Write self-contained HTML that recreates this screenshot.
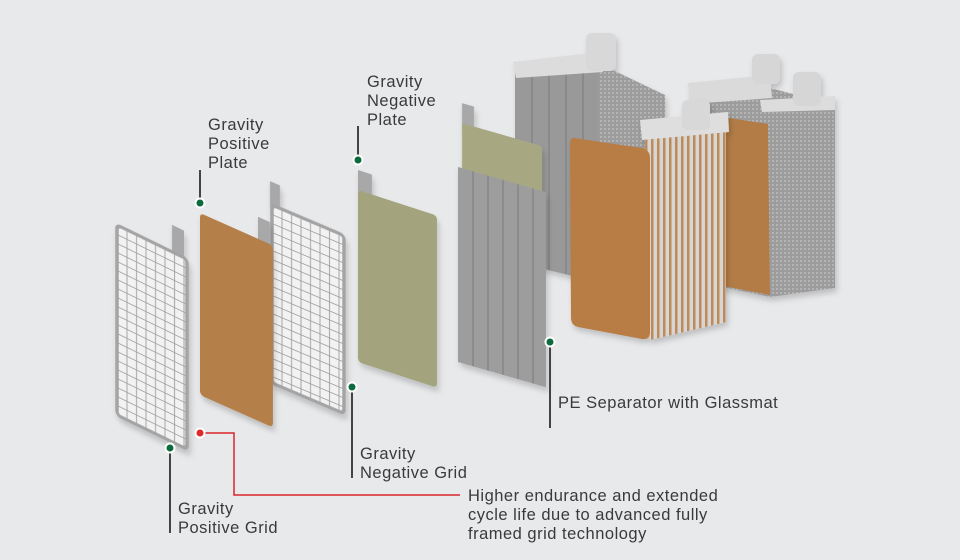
<!DOCTYPE html>
<html><head><meta charset="utf-8"><style>
html,body{margin:0;padding:0;background:#e8e9eb;}
svg{display:block}
text{font-family:"Liberation Sans",sans-serif;font-size:16.5px;fill:#3a3a3a;letter-spacing:0.5px}
</style></head><body>
<svg width="960" height="560" viewBox="0 0 960 560" xmlns="http://www.w3.org/2000/svg">
<defs>
<pattern id="grid" width="9.5" height="9" patternUnits="userSpaceOnUse">
<rect width="9.5" height="9" fill="#f2f2f2"/>
<path d="M0 0V9M0 0H9.5" stroke="#a4a4a4" stroke-width="2"/>
</pattern>
<pattern id="tex" width="4" height="4" patternUnits="userSpaceOnUse">
<rect width="4" height="4" fill="#9c9c9c"/>
<rect width="2" height="2" fill="#b4b4b4"/>
</pattern>
<pattern id="edges" width="6" height="10" patternUnits="userSpaceOnUse">
<rect width="6" height="10" fill="#d6d6d6"/>
<rect x="3" width="2.5" height="10" fill="#bf8a55"/>
</pattern>
<filter id="sh" x="-20%" y="-20%" width="140%" height="140%"><feDropShadow dx="2" dy="4" stdDeviation="3" flood-color="#000" flood-opacity="0.18"/></filter>
</defs>
<rect width="960" height="560" fill="#e8e9eb"/>

<!-- back block -->
<g filter="url(#sh)">
<polygon points="515,72 600,64 665,95 665,272 598,282 515,262" fill="url(#tex)"/>
<polygon points="515,72 598,66 598,282 515,262" fill="#999"/>
<g stroke="#808080" stroke-width="1.2"><line x1="532" y1="72" x2="532" y2="266"/><line x1="549" y1="70" x2="549" y2="270"/><line x1="566" y1="69" x2="566" y2="274"/><line x1="583" y1="67" x2="583" y2="278"/></g>
<polygon points="513,62 600,52 603,72 516,78" fill="#dcdcdc"/>
<rect x="586" y="33" width="30" height="38" rx="6" fill="#d8d8d8"/>
</g>

<!-- right block -->
<g filter="url(#sh)">
<polygon points="690,100 770,88 835,105 835,288 770,297 712,285" fill="url(#tex)"/>
<polygon points="710,115 768,124 770,295 713,284" fill="#b37c47"/>
<polygon points="688,83 770,75 772,98 690,104" fill="#dadada"/>
<rect x="752" y="54" width="28" height="30" rx="6" fill="#d6d6d6"/>
<polygon points="760,100 835,96 835,110 762,112" fill="#dcdcdc"/>
<rect x="793" y="72" width="28" height="34" rx="6" fill="#d6d6d6"/>
</g>

<!-- front orange block -->
<g filter="url(#sh)">
<polygon points="645,134 726,128 726,322 650,340" fill="url(#edges)"/>
<path d="M574,138 L642,148 Q650,150 650,158 L650,332 Q650,340 642,339 L578,327 Q571,325 571,318 L570,146 Q570,137 574,138Z" fill="#b77d45"/>
<polygon points="640,120 728,112 729,132 642,140" fill="#dedede"/>
<rect x="682" y="100" width="28" height="30" rx="6" fill="#d8d8d8"/>
</g>

<!-- separator -->
<g filter="url(#sh)" transform="translate(458,122) skewY(16)">
<rect x="4" y="-20" width="12" height="26" fill="#a8a8a8"/>
<rect x="4" y="0" width="80" height="50" rx="3" fill="#a7a882"/>
<rect x="0" y="45" width="88" height="195" fill="#9d9d9d"/>
<g stroke="#808080" stroke-width="1.2"><line x1="15" y1="45" x2="15" y2="240"/><line x1="30" y1="45" x2="30" y2="240"/><line x1="45" y1="45" x2="45" y2="240"/><line x1="60" y1="45" x2="60" y2="240"/><line x1="75" y1="45" x2="75" y2="240"/></g>
</g>

<!-- negative plate -->
<g filter="url(#sh)" transform="translate(358,190) skewY(18)">
<rect x="0" y="-20" width="14" height="24" fill="#a8a8a8"/>
<rect x="0" y="0" width="79" height="172" rx="4" fill="#a3a37d"/>
</g>

<!-- grid 2 -->
<g filter="url(#sh)" transform="translate(272,205) skewY(23)">
<rect x="-2" y="-23" width="10" height="26" fill="#a8a8a8"/>
<rect x="0" y="0" width="72" height="178" rx="4" fill="url(#grid)" stroke="#a4a4a4" stroke-width="3.5"/>
</g>

<!-- positive plate -->
<g filter="url(#sh)" transform="translate(200,213) skewY(24)">
<rect x="58" y="-22" width="12" height="26" fill="#a8a8a8"/>
<rect x="0" y="0" width="73" height="182" rx="4" fill="#b57f4a"/>
</g>

<!-- grid 1 -->
<g filter="url(#sh)" transform="translate(117,225) skewY(26)">
<rect x="55" y="-27" width="12" height="28" fill="#a8a8a8"/>
<rect x="0" y="0" width="70" height="190" rx="4" fill="url(#grid)" stroke="#a4a4a4" stroke-width="3.5"/>
</g>

<!-- callouts -->
<g stroke="#444" stroke-width="2" fill="none">
<line x1="200" y1="170" x2="200" y2="203"/>
<line x1="358" y1="126" x2="358" y2="160"/>
<line x1="550" y1="342" x2="550" y2="428"/>
<line x1="352" y1="387" x2="352" y2="478"/>
<line x1="170" y1="448" x2="170" y2="533"/>
</g>
<polyline points="200,433 234,433 234,495 460,495" fill="none" stroke="#d8262c" stroke-width="1.5"/>
<g fill="#0c6a3c" stroke="#fff" stroke-width="2">
<circle cx="200" cy="203" r="4.5"/><circle cx="358" cy="160" r="4.5"/><circle cx="550" cy="342" r="4.5"/><circle cx="352" cy="387" r="4.5"/><circle cx="170" cy="448" r="4.5"/>
</g>
<circle cx="200" cy="433" r="4.5" fill="#e02a2a" stroke="#fff" stroke-width="2"/>

<text x="208" y="130">Gravity</text><text x="208" y="149">Positive</text><text x="208" y="168">Plate</text>
<text x="367" y="87">Gravity</text><text x="367" y="106">Negative</text><text x="367" y="125">Plate</text>
<text x="558" y="408">PE Separator with Glassmat</text>
<text x="360" y="459">Gravity</text><text x="360" y="478">Negative Grid</text>
<text x="178" y="514">Gravity</text><text x="178" y="533">Positive Grid</text>
<text x="468" y="501">Higher endurance and extended</text>
<text x="468" y="520">cycle life due to advanced fully</text>
<text x="468" y="539">framed grid technology</text>
</svg>
</body></html>
